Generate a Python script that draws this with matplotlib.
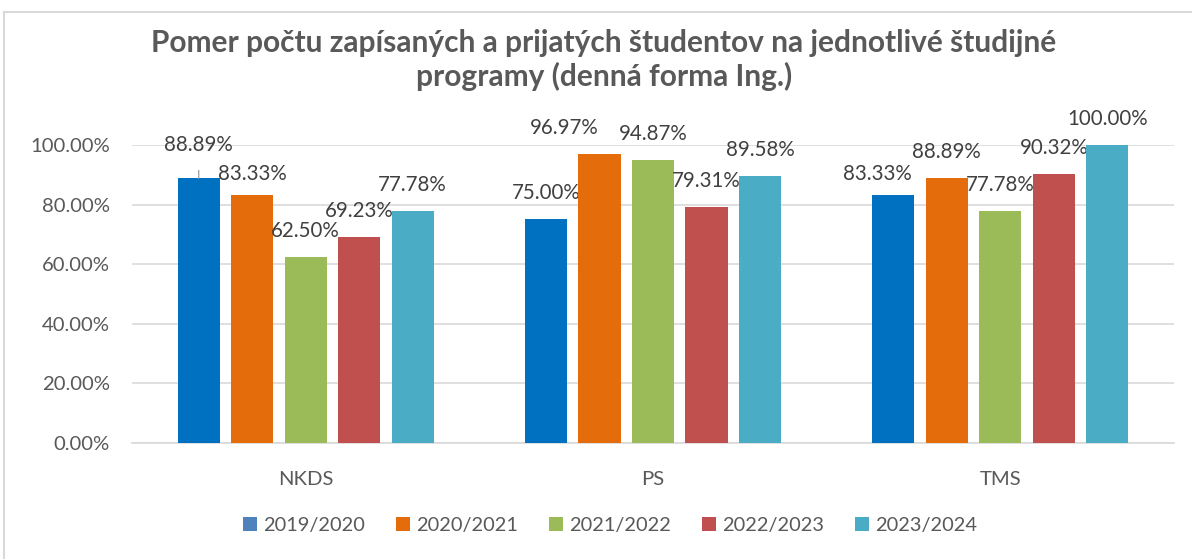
import numpy as np
import matplotlib.pyplot as plt
from matplotlib.patches import Patch
from matplotlib.lines import Line2D
from matplotlib.ticker import FuncFormatter

programs = ['NKDS', 'PS', 'TMS']
years = ['2019/2020', '2020/2021', '2021/2022', '2022/2023', '2023/2024']
ratio = {
    '2019/2020': [0.8889, 0.7500, 0.8333],
    '2020/2021': [0.8333, 0.9697, 0.8889],
    '2021/2022': [0.6250, 0.9487, 0.7778],
    '2022/2023': [0.6923, 0.7931, 0.9032],
    '2023/2024': [0.7778, 0.8958, 1.0000],
}
bar_colors = ['#0070C0', '#E46C0A', '#9BBB59', '#C0504D', '#4BACC6']
legend_colors = ['#4F81BD', '#E46C0A', '#9BBB59', '#C0504D', '#4BACC6']

# label nudges in pixels (Excel moved a few labels to avoid overlap)
nudge = {(0, 0): (0, 7), (1, 0): (0, -5), (1, 1): (-35, 0), (0, 2): (-16, -5)}

plt.rcParams['font.family'] = ['Lato', 'DejaVu Sans']
fig = plt.figure(figsize=(11.92, 5.59), dpi=100)
ax = fig.add_axes([132 / 1192, 1 - 443 / 559, 1042 / 1192, 298 / 559])

x = np.arange(len(programs))
step = 0.154
w = 0.121
for i, y in enumerate(years):
    vals = ratio[y]
    pos = x + (i - 2) * step
    ax.bar(pos, vals, w, color=bar_colors[i], zorder=3)
    for j, v in enumerate(vals):
        dx, dy = nudge.get((i, j), (0, 0))
        kw = {}
        if (i, j) == (0, 0):
            kw['arrowprops'] = dict(arrowstyle='-', color='#A6A6A6', lw=1,
                                    shrinkA=9, shrinkB=0)
        ax.annotate('%.2f%%' % (v * 100), (pos[j], v),
                    xytext=(dx, 26 + dy), textcoords='offset pixels',
                    ha='center', va='center', fontsize=14.8,
                    color='#404040', annotation_clip=False, **kw)

ax.set_xlim(-0.5, 2.5)
ax.set_ylim(0, 1)
ax.set_yticks(np.arange(0, 1.01, 0.2))
ax.yaxis.set_major_formatter(FuncFormatter(lambda v, p: '%.2f%%' % (v * 100)))
ax.set_xticks(x)
ax.set_xticklabels(programs)
ax.tick_params(axis='both', length=0, labelsize=14.6, labelcolor='#595959')
ax.tick_params(axis='x', pad=20)
ax.tick_params(axis='y', pad=16)
ax.grid(axis='y', color='#D9D9D9', lw=1.2, zorder=0)
for s in ['top', 'right', 'left']:
    ax.spines[s].set_visible(False)
ax.spines['bottom'].set_color('#D9D9D9')
ax.spines['bottom'].set_linewidth(1.2)

fig.text(604 / 1192, 1 - 60 / 559,
         'Pomer počtu zapísaných a prijatých študentov na jednotlivé študijné\nprogramy (denná forma Ing.)',
         ha='center', va='center', fontsize=21.5, fontweight='bold',
         color='#595959', linespacing=1.2)

handles = [Patch(facecolor=c, label=l) for c, l in zip(legend_colors, years)]
fig.legend(handles=handles, loc='center', bbox_to_anchor=(610 / 1192, 1 - 525 / 559),
           ncol=5, frameon=False, fontsize=14.4, labelcolor='#595959',
           handlelength=0.7, handleheight=0.7, handletextpad=0.3, columnspacing=1.55)

# chart border (left and top edges visible in the crop)
fig.add_artist(Line2D([4 / 1192, 4 / 1192], [0, 1 - 12 / 559], color='#D9D9D9', lw=1.5))
fig.add_artist(Line2D([4 / 1192, 1], [1 - 12 / 559, 1 - 12 / 559], color='#D9D9D9', lw=1.5))

fig.savefig('out.png', dpi=100)
